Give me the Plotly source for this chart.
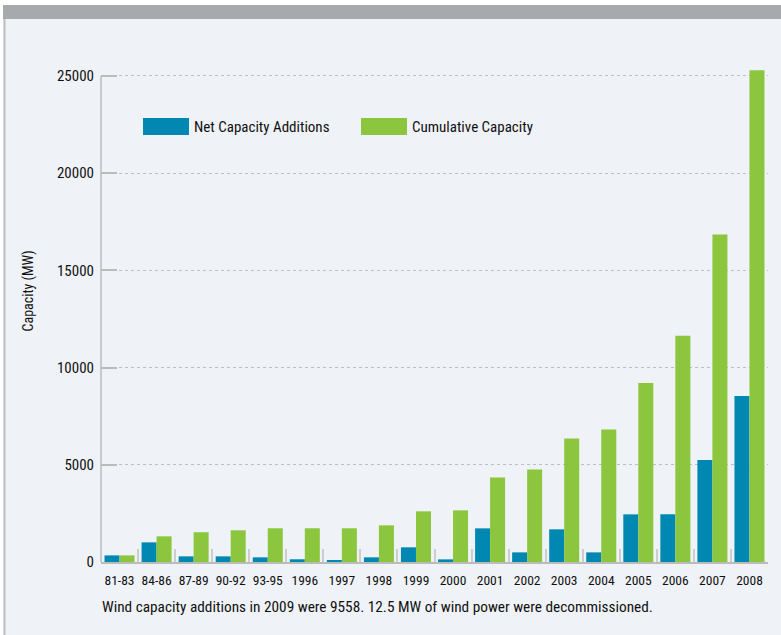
import plotly.graph_objects as go

categories = ["81-83", "84-86", "87-89", "90-92", "93-95", "1996", "1997", "1998", "1999",
              "2000", "2001", "2002", "2003", "2004", "2005", "2006", "2007", "2008"]
net_additions = [340, 1010, 290, 290, 240, 140, 85, 240, 755,
                 135, 1730, 495, 1680, 495, 2450, 2455, 5240, 8540]
cumulative = [340, 1320, 1530, 1630, 1735, 1735, 1735, 1885, 2605,
              2655, 4350, 4760, 6355, 6815, 9210, 11630, 16840, 25290]
y_ticks = [0, 5000, 10000, 15000, 20000, 25000]

BLUE = "#0088B3"
GREEN = "#8CC63F"
PANEL = "#EFF2F7"
TXT = "#111111"
FONT = "Liberation Sans Narrow, Roboto Condensed, Arial Narrow, DejaVu Sans Condensed, sans-serif"

W, H = 781, 635
L, R, T, B = 101, 13, 68, 73
PW, PH = W - L - R, H - T - B

def xp(px):
    return (px - L) / PW

def yp(py):
    return (H - B - py) / PH

fig = go.Figure()
fig.add_trace(go.Bar(x=categories, y=net_additions, name="Net Capacity Additions",
                     marker=dict(color=BLUE, line=dict(width=0)), showlegend=False))
fig.add_trace(go.Bar(x=categories, y=cumulative, name="Cumulative Capacity",
                     marker=dict(color=GREEN, line=dict(width=0)), showlegend=False))

shapes = [
    dict(type="rect", xref="paper", yref="paper", x0=xp(0), x1=xp(W), y0=yp(0), y1=yp(5),
         fillcolor="white", line=dict(width=0), layer="below"),
    dict(type="rect", xref="paper", yref="paper", x0=xp(0), x1=xp(3), y0=yp(0), y1=yp(H),
         fillcolor="white", line=dict(width=0), layer="below"),
    dict(type="rect", xref="paper", yref="paper", x0=xp(3), x1=xp(W), y0=yp(5), y1=yp(19),
         fillcolor="#A7A9AC", line=dict(width=0), layer="below"),
    dict(type="rect", xref="paper", yref="paper", x0=xp(3.5), x1=xp(5.5), y0=yp(19), y1=yp(H),
         fillcolor="#BDBFC2", line=dict(width=0), layer="below"),
    dict(type="line", xref="paper", yref="y", x0=0, x1=0, y0=0, y1=y_ticks[-1],
         line=dict(color="#BBBBBB", width=1.5), layer="above"),
    dict(type="rect", xref="paper", yref="paper", x0=xp(143), x1=xp(189), y0=yp(135), y1=yp(118),
         fillcolor=BLUE, line=dict(width=0)),
    dict(type="rect", xref="paper", yref="paper", x0=xp(361), x1=xp(407), y0=yp(135), y1=yp(118),
         fillcolor=GREEN, line=dict(width=0)),
]

annotations = [
    dict(text="Net Capacity Additions", xref="paper", yref="paper", x=xp(192), y=yp(126.5),
         xanchor="left", yanchor="middle", showarrow=False, font=dict(size=15, color=TXT, family=FONT)),
    dict(text="Cumulative Capacity", xref="paper", yref="paper", x=xp(410), y=yp(126.5),
         xanchor="left", yanchor="middle", showarrow=False, font=dict(size=15, color=TXT, family=FONT)),
    dict(text="Capacity (MW)", xref="paper", yref="paper", x=xp(27.5), y=yp(291),
         xanchor="center", yanchor="middle", textangle=-90, showarrow=False,
         font=dict(size=14, color=TXT, family=FONT)),
    dict(text="Wind capacity additions in 2009 were 9558. 12.5 MW of wind power were decommissioned.",
         xref="paper", yref="paper", x=xp(100), y=yp(607), xanchor="left", yanchor="middle",
         showarrow=False, font=dict(size=15.3, color=TXT, family=FONT)),
]

fig.update_layout(
    width=W, height=H,
    margin=dict(l=L, r=R, t=T, b=B, pad=0),
    paper_bgcolor=PANEL, plot_bgcolor=PANEL,
    barmode="group", bargap=0.19, bargroupgap=0,
    shapes=shapes, annotations=annotations,
    font=dict(family=FONT, color=TXT),
)
fig.update_xaxes(
    type="category", showgrid=False, showline=True, linecolor="#BBBBBB", linewidth=2,
    ticks="inside", tickson="boundaries", ticklen=13, tickwidth=2, tickcolor="#CDCDCD",
    tickfont=dict(size=13.5, color=TXT, family=FONT), ticklabelstandoff=5, tickangle=0,
    zeroline=False,
)
fig.update_yaxes(
    range=[0, 25400], tickvals=y_ticks, ticktext=[str(v) for v in y_ticks],
    showline=False, zeroline=False,
    showgrid=True, gridcolor="#BCBEC2", griddash="dot", gridwidth=1,
    ticks="inside", ticklen=16, tickwidth=1.5, tickcolor="#BBBBBB",
    tickfont=dict(size=15, color=TXT, family=FONT), ticklabelstandoff=6,
)

fig.write_html("out.html")
